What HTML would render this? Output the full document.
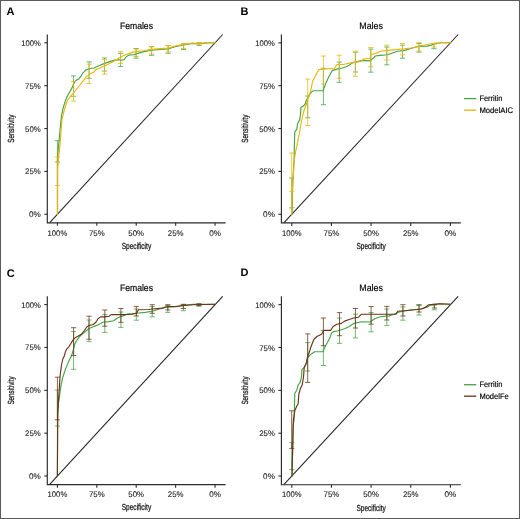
<!DOCTYPE html>
<html><head><meta charset="utf-8"><title>ROC curves</title>
<style>
html,body{margin:0;padding:0;background:#fff;}
body{width:520px;height:519px;overflow:hidden;}
svg{display:block;will-change:transform;}
text{font-family:"Liberation Sans", sans-serif;text-rendering:geometricPrecision;}
.tk{font-size:8.1px;fill:#1a1a1a;stroke:#1a1a1a;stroke-width:0.1px;}
.ti{font-size:9.5px;fill:#000;stroke:#000;stroke-width:0.18px;}
.at{font-size:8.9px;fill:#111;stroke:#111;stroke-width:0.25px;}
.lg{font-size:8px;fill:#000;stroke:#000;stroke-width:0.18px;}
.pl{font-size:11px;font-weight:bold;fill:#000;}
</style></head>
<body>
<svg width="520" height="519" viewBox="0 0 520 519">
<rect x="0.5" y="0.5" width="519" height="518" fill="#fff" stroke="#5a5a5a" stroke-width="1"/>
<text x="6.6" y="14.7" class="pl">A</text>
<text x="240.6" y="14.9" class="pl">B</text>
<text x="6.8" y="276.5" class="pl">C</text>
<text x="240.6" y="276.3" class="pl">D</text>
<line x1="49.49" y1="222.85" x2="222.68" y2="34.5" stroke="#222" stroke-width="1.05"/>
<path d="M47.3 34.5V222.85H225.6" fill="none" stroke="#2b2b2b" stroke-width="1.15"/>
<line x1="44.3" y1="214.25" x2="47.3" y2="214.25" stroke="#2b2b2b" stroke-width="1.1"/>
<text x="40.8" y="217.25" text-anchor="end" class="tk" textLength="11.8" lengthAdjust="spacingAndGlyphs">0%</text>
<line x1="44.3" y1="171.39" x2="47.3" y2="171.39" stroke="#2b2b2b" stroke-width="1.1"/>
<text x="40.8" y="174.39" text-anchor="end" class="tk" textLength="15.7" lengthAdjust="spacingAndGlyphs">25%</text>
<line x1="44.3" y1="128.53" x2="47.3" y2="128.53" stroke="#2b2b2b" stroke-width="1.1"/>
<text x="40.8" y="131.53" text-anchor="end" class="tk" textLength="15.7" lengthAdjust="spacingAndGlyphs">50%</text>
<line x1="44.3" y1="85.66" x2="47.3" y2="85.66" stroke="#2b2b2b" stroke-width="1.1"/>
<text x="40.8" y="88.66" text-anchor="end" class="tk" textLength="15.7" lengthAdjust="spacingAndGlyphs">75%</text>
<line x1="44.3" y1="42.8" x2="47.3" y2="42.8" stroke="#2b2b2b" stroke-width="1.1"/>
<text x="40.8" y="45.8" text-anchor="end" class="tk" textLength="19.6" lengthAdjust="spacingAndGlyphs">100%</text>
<line x1="57.4" y1="222.85" x2="57.4" y2="225.85" stroke="#2b2b2b" stroke-width="1.1"/>
<text x="57.4" y="235.55" text-anchor="middle" class="tk" textLength="19.6" lengthAdjust="spacingAndGlyphs">100%</text>
<line x1="96.81" y1="222.85" x2="96.81" y2="225.85" stroke="#2b2b2b" stroke-width="1.1"/>
<text x="96.81" y="235.55" text-anchor="middle" class="tk" textLength="15.7" lengthAdjust="spacingAndGlyphs">75%</text>
<line x1="136.22" y1="222.85" x2="136.22" y2="225.85" stroke="#2b2b2b" stroke-width="1.1"/>
<text x="136.22" y="235.55" text-anchor="middle" class="tk" textLength="15.7" lengthAdjust="spacingAndGlyphs">50%</text>
<line x1="175.64" y1="222.85" x2="175.64" y2="225.85" stroke="#2b2b2b" stroke-width="1.1"/>
<text x="175.64" y="235.55" text-anchor="middle" class="tk" textLength="15.7" lengthAdjust="spacingAndGlyphs">25%</text>
<line x1="215.05" y1="222.85" x2="215.05" y2="225.85" stroke="#2b2b2b" stroke-width="1.1"/>
<text x="215.05" y="235.55" text-anchor="middle" class="tk" textLength="11.8" lengthAdjust="spacingAndGlyphs">0%</text>
<text x="136.45" y="28.9" text-anchor="middle" class="ti" textLength="33.1" lengthAdjust="spacingAndGlyphs">Females</text>
<text x="136.45" y="248.65" text-anchor="middle" class="at" textLength="29.4" lengthAdjust="spacingAndGlyphs">Specificity</text>
<text transform="translate(14.2 128.68) rotate(-90)" x="0" y="0" text-anchor="middle" class="at" textLength="28.2" lengthAdjust="spacingAndGlyphs">Sensitivity</text>
<line x1="283.8" y1="222.9" x2="458.13" y2="34.5" stroke="#222" stroke-width="1.05"/>
<path d="M281.4 34.5V222.9H460.8" fill="none" stroke="#2b2b2b" stroke-width="1.15"/>
<line x1="278.4" y1="214.25" x2="281.4" y2="214.25" stroke="#2b2b2b" stroke-width="1.1"/>
<text x="274.9" y="217.25" text-anchor="end" class="tk" textLength="11.8" lengthAdjust="spacingAndGlyphs">0%</text>
<line x1="278.4" y1="171.4" x2="281.4" y2="171.4" stroke="#2b2b2b" stroke-width="1.1"/>
<text x="274.9" y="174.4" text-anchor="end" class="tk" textLength="15.7" lengthAdjust="spacingAndGlyphs">25%</text>
<line x1="278.4" y1="128.55" x2="281.4" y2="128.55" stroke="#2b2b2b" stroke-width="1.1"/>
<text x="274.9" y="131.55" text-anchor="end" class="tk" textLength="15.7" lengthAdjust="spacingAndGlyphs">50%</text>
<line x1="278.4" y1="85.7" x2="281.4" y2="85.7" stroke="#2b2b2b" stroke-width="1.1"/>
<text x="274.9" y="88.7" text-anchor="end" class="tk" textLength="15.7" lengthAdjust="spacingAndGlyphs">75%</text>
<line x1="278.4" y1="42.85" x2="281.4" y2="42.85" stroke="#2b2b2b" stroke-width="1.1"/>
<text x="274.9" y="45.85" text-anchor="end" class="tk" textLength="19.6" lengthAdjust="spacingAndGlyphs">100%</text>
<line x1="291.8" y1="222.9" x2="291.8" y2="225.9" stroke="#2b2b2b" stroke-width="1.1"/>
<text x="291.8" y="235.6" text-anchor="middle" class="tk" textLength="19.6" lengthAdjust="spacingAndGlyphs">100%</text>
<line x1="331.45" y1="222.9" x2="331.45" y2="225.9" stroke="#2b2b2b" stroke-width="1.1"/>
<text x="331.45" y="235.6" text-anchor="middle" class="tk" textLength="15.7" lengthAdjust="spacingAndGlyphs">75%</text>
<line x1="371.1" y1="222.9" x2="371.1" y2="225.9" stroke="#2b2b2b" stroke-width="1.1"/>
<text x="371.1" y="235.6" text-anchor="middle" class="tk" textLength="15.7" lengthAdjust="spacingAndGlyphs">50%</text>
<line x1="410.75" y1="222.9" x2="410.75" y2="225.9" stroke="#2b2b2b" stroke-width="1.1"/>
<text x="410.75" y="235.6" text-anchor="middle" class="tk" textLength="15.7" lengthAdjust="spacingAndGlyphs">25%</text>
<line x1="450.4" y1="222.9" x2="450.4" y2="225.9" stroke="#2b2b2b" stroke-width="1.1"/>
<text x="450.4" y="235.6" text-anchor="middle" class="tk" textLength="11.8" lengthAdjust="spacingAndGlyphs">0%</text>
<text x="371.1" y="28.9" text-anchor="middle" class="ti" textLength="23.6" lengthAdjust="spacingAndGlyphs">Males</text>
<text x="371.1" y="248.7" text-anchor="middle" class="at" textLength="29.4" lengthAdjust="spacingAndGlyphs">Specificity</text>
<text transform="translate(248.3 128.7) rotate(-90)" x="0" y="0" text-anchor="middle" class="at" textLength="28.2" lengthAdjust="spacingAndGlyphs">Sensitivity</text>
<line x1="49.49" y1="484.65" x2="222.68" y2="296.3" stroke="#222" stroke-width="1.05"/>
<path d="M47.3 296.3V484.65H225.6" fill="none" stroke="#2b2b2b" stroke-width="1.15"/>
<line x1="44.3" y1="476.05" x2="47.3" y2="476.05" stroke="#2b2b2b" stroke-width="1.1"/>
<text x="40.8" y="479.05" text-anchor="end" class="tk" textLength="11.8" lengthAdjust="spacingAndGlyphs">0%</text>
<line x1="44.3" y1="433.19" x2="47.3" y2="433.19" stroke="#2b2b2b" stroke-width="1.1"/>
<text x="40.8" y="436.19" text-anchor="end" class="tk" textLength="15.7" lengthAdjust="spacingAndGlyphs">25%</text>
<line x1="44.3" y1="390.33" x2="47.3" y2="390.33" stroke="#2b2b2b" stroke-width="1.1"/>
<text x="40.8" y="393.33" text-anchor="end" class="tk" textLength="15.7" lengthAdjust="spacingAndGlyphs">50%</text>
<line x1="44.3" y1="347.46" x2="47.3" y2="347.46" stroke="#2b2b2b" stroke-width="1.1"/>
<text x="40.8" y="350.46" text-anchor="end" class="tk" textLength="15.7" lengthAdjust="spacingAndGlyphs">75%</text>
<line x1="44.3" y1="304.6" x2="47.3" y2="304.6" stroke="#2b2b2b" stroke-width="1.1"/>
<text x="40.8" y="307.6" text-anchor="end" class="tk" textLength="19.6" lengthAdjust="spacingAndGlyphs">100%</text>
<line x1="57.4" y1="484.65" x2="57.4" y2="487.65" stroke="#2b2b2b" stroke-width="1.1"/>
<text x="57.4" y="497.35" text-anchor="middle" class="tk" textLength="19.6" lengthAdjust="spacingAndGlyphs">100%</text>
<line x1="96.81" y1="484.65" x2="96.81" y2="487.65" stroke="#2b2b2b" stroke-width="1.1"/>
<text x="96.81" y="497.35" text-anchor="middle" class="tk" textLength="15.7" lengthAdjust="spacingAndGlyphs">75%</text>
<line x1="136.22" y1="484.65" x2="136.22" y2="487.65" stroke="#2b2b2b" stroke-width="1.1"/>
<text x="136.22" y="497.35" text-anchor="middle" class="tk" textLength="15.7" lengthAdjust="spacingAndGlyphs">50%</text>
<line x1="175.64" y1="484.65" x2="175.64" y2="487.65" stroke="#2b2b2b" stroke-width="1.1"/>
<text x="175.64" y="497.35" text-anchor="middle" class="tk" textLength="15.7" lengthAdjust="spacingAndGlyphs">25%</text>
<line x1="215.05" y1="484.65" x2="215.05" y2="487.65" stroke="#2b2b2b" stroke-width="1.1"/>
<text x="215.05" y="497.35" text-anchor="middle" class="tk" textLength="11.8" lengthAdjust="spacingAndGlyphs">0%</text>
<text x="136.45" y="290.7" text-anchor="middle" class="ti" textLength="33.1" lengthAdjust="spacingAndGlyphs">Females</text>
<text x="136.45" y="510.45" text-anchor="middle" class="at" textLength="29.4" lengthAdjust="spacingAndGlyphs">Specificity</text>
<text transform="translate(14.2 390.48) rotate(-90)" x="0" y="0" text-anchor="middle" class="at" textLength="28.2" lengthAdjust="spacingAndGlyphs">Sensitivity</text>
<line x1="283.8" y1="484.7" x2="458.13" y2="296.3" stroke="#222" stroke-width="1.05"/>
<path d="M281.4 296.3V484.7H460.8" fill="none" stroke="#2b2b2b" stroke-width="1.15"/>
<line x1="278.4" y1="476.05" x2="281.4" y2="476.05" stroke="#2b2b2b" stroke-width="1.1"/>
<text x="274.9" y="479.05" text-anchor="end" class="tk" textLength="11.8" lengthAdjust="spacingAndGlyphs">0%</text>
<line x1="278.4" y1="433.2" x2="281.4" y2="433.2" stroke="#2b2b2b" stroke-width="1.1"/>
<text x="274.9" y="436.2" text-anchor="end" class="tk" textLength="15.7" lengthAdjust="spacingAndGlyphs">25%</text>
<line x1="278.4" y1="390.35" x2="281.4" y2="390.35" stroke="#2b2b2b" stroke-width="1.1"/>
<text x="274.9" y="393.35" text-anchor="end" class="tk" textLength="15.7" lengthAdjust="spacingAndGlyphs">50%</text>
<line x1="278.4" y1="347.5" x2="281.4" y2="347.5" stroke="#2b2b2b" stroke-width="1.1"/>
<text x="274.9" y="350.5" text-anchor="end" class="tk" textLength="15.7" lengthAdjust="spacingAndGlyphs">75%</text>
<line x1="278.4" y1="304.65" x2="281.4" y2="304.65" stroke="#2b2b2b" stroke-width="1.1"/>
<text x="274.9" y="307.65" text-anchor="end" class="tk" textLength="19.6" lengthAdjust="spacingAndGlyphs">100%</text>
<line x1="291.8" y1="484.7" x2="291.8" y2="487.7" stroke="#2b2b2b" stroke-width="1.1"/>
<text x="291.8" y="497.4" text-anchor="middle" class="tk" textLength="19.6" lengthAdjust="spacingAndGlyphs">100%</text>
<line x1="331.45" y1="484.7" x2="331.45" y2="487.7" stroke="#2b2b2b" stroke-width="1.1"/>
<text x="331.45" y="497.4" text-anchor="middle" class="tk" textLength="15.7" lengthAdjust="spacingAndGlyphs">75%</text>
<line x1="371.1" y1="484.7" x2="371.1" y2="487.7" stroke="#2b2b2b" stroke-width="1.1"/>
<text x="371.1" y="497.4" text-anchor="middle" class="tk" textLength="15.7" lengthAdjust="spacingAndGlyphs">50%</text>
<line x1="410.75" y1="484.7" x2="410.75" y2="487.7" stroke="#2b2b2b" stroke-width="1.1"/>
<text x="410.75" y="497.4" text-anchor="middle" class="tk" textLength="15.7" lengthAdjust="spacingAndGlyphs">25%</text>
<line x1="450.4" y1="484.7" x2="450.4" y2="487.7" stroke="#2b2b2b" stroke-width="1.1"/>
<text x="450.4" y="497.4" text-anchor="middle" class="tk" textLength="11.8" lengthAdjust="spacingAndGlyphs">0%</text>
<text x="371.1" y="290.7" text-anchor="middle" class="ti" textLength="23.6" lengthAdjust="spacingAndGlyphs">Males</text>
<text x="371.1" y="510.5" text-anchor="middle" class="at" textLength="29.4" lengthAdjust="spacingAndGlyphs">Specificity</text>
<text transform="translate(248.3 390.5) rotate(-90)" x="0" y="0" text-anchor="middle" class="at" textLength="28.2" lengthAdjust="spacingAndGlyphs">Sensitivity</text>
<path d="M57.4 140.7V162M54.8 140.7H60M54.8 162H60" fill="none" stroke="#45a545" stroke-width="0.9" stroke-opacity="0.85"/>
<path d="M73.5 75.9V96.3M70.9 75.9H76.1M70.9 96.3H76.1" fill="none" stroke="#45a545" stroke-width="0.9" stroke-opacity="0.85"/>
<path d="M89.1 61.9V78.4M86.5 61.9H91.7M86.5 78.4H91.7" fill="none" stroke="#45a545" stroke-width="0.9" stroke-opacity="0.85"/>
<path d="M104.5 58V71.1M101.9 58H107.1M101.9 71.1H107.1" fill="none" stroke="#45a545" stroke-width="0.9" stroke-opacity="0.85"/>
<path d="M120.6 53.4V66.5M118 53.4H123.2M118 66.5H123.2" fill="none" stroke="#45a545" stroke-width="0.9" stroke-opacity="0.85"/>
<path d="M136.1 48.5V58.1M133.5 48.5H138.7M133.5 58.1H138.7" fill="none" stroke="#45a545" stroke-width="0.9" stroke-opacity="0.85"/>
<path d="M151.6 46.7V55.4M149 46.7H154.2M149 55.4H154.2" fill="none" stroke="#45a545" stroke-width="0.9" stroke-opacity="0.85"/>
<path d="M168.1 45.5V53.3M165.5 45.5H170.7M165.5 53.3H170.7" fill="none" stroke="#45a545" stroke-width="0.9" stroke-opacity="0.85"/>
<path d="M183.6 43.8V49.5M181 43.8H186.2M181 49.5H186.2" fill="none" stroke="#45a545" stroke-width="0.9" stroke-opacity="0.85"/>
<path d="M199.2 42.9V45.5M196.6 42.9H201.8M196.6 45.5H201.8" fill="none" stroke="#45a545" stroke-width="0.9" stroke-opacity="0.85"/>
<path d="M57.4 214.3 L57.4 160 L57.7 156.6 L58.2 148.9 L59.2 139.3 L60.1 129.6 L60.8 122 L61.6 115.2 L63.4 107.1 L65.5 100.4 L67.5 95.7 L69.5 92.3 L71.5 88.9 L73.5 84.2 L75.6 80.8 L78.9 78.8 L81 76.1 L83 72.8 L85.7 70.1 L89 68.7 L94 68 L98.7 65.7 L104.8 63.4 L111 61.1 L117.2 59.6 L121.8 60.3 L124.1 59.6 L126.4 56.5 L129.5 55 L134 54.6 L143.8 51.6 L151.6 50.2 L160.3 49.4 L168.1 48.9 L175 46.8 L183.6 45 L192.3 43.5 L199.2 43.8 L207.9 42.9 L215 42.8" fill="none" stroke="#45a545" stroke-width="1.15" stroke-linejoin="round" stroke-linecap="round"/>
<path d="M57.4 157V185.5M54.8 157H60M54.8 185.5H60" fill="none" stroke="#ebb50a" stroke-width="0.9" stroke-opacity="0.85"/>
<path d="M73.5 81.5V101.1M70.9 81.5H76.1M70.9 101.1H76.1" fill="none" stroke="#ebb50a" stroke-width="0.9" stroke-opacity="0.85"/>
<path d="M89.1 64.2V83.5M86.5 64.2H91.7M86.5 83.5H91.7" fill="none" stroke="#ebb50a" stroke-width="0.9" stroke-opacity="0.85"/>
<path d="M104.5 59.6V74.2M101.9 59.6H107.1M101.9 74.2H107.1" fill="none" stroke="#ebb50a" stroke-width="0.9" stroke-opacity="0.85"/>
<path d="M120.6 51.6V63.4M118 51.6H123.2M118 63.4H123.2" fill="none" stroke="#ebb50a" stroke-width="0.9" stroke-opacity="0.85"/>
<path d="M136.1 49V56.5M133.5 49H138.7M133.5 56.5H138.7" fill="none" stroke="#ebb50a" stroke-width="0.9" stroke-opacity="0.85"/>
<path d="M151.6 46.7V54M149 46.7H154.2M149 54H154.2" fill="none" stroke="#ebb50a" stroke-width="0.9" stroke-opacity="0.85"/>
<path d="M168.1 45.5V52M165.5 45.5H170.7M165.5 52H170.7" fill="none" stroke="#ebb50a" stroke-width="0.9" stroke-opacity="0.85"/>
<path d="M183.6 43.8V48.5M181 43.8H186.2M181 48.5H186.2" fill="none" stroke="#ebb50a" stroke-width="0.9" stroke-opacity="0.85"/>
<path d="M199.2 42.9V45M196.6 42.9H201.8M196.6 45H201.8" fill="none" stroke="#ebb50a" stroke-width="0.9" stroke-opacity="0.85"/>
<path d="M57.6 214.3 L57.7 168.2 L58.7 156.6 L60.1 144.1 L61.1 129.6 L62 120 L63.4 113.5 L65.5 105.8 L67.5 100.5 L70.2 96.6 L72.9 93.6 L76.2 89.5 L79.6 85.5 L83 80.8 L86.3 76.9 L89.7 74.1 L94 72.1 L95.6 69.6 L100.2 68 L104.8 65.7 L109.5 63.4 L115.6 60.3 L120.3 57.3 L124.9 55 L129.5 53.4 L134 51.9 L143.8 50.8 L151.6 49.4 L160.3 48.6 L168.1 48.1 L175 46 L183.6 44.4 L192.3 43.1 L199.2 43.3 L207.9 42.8 L215 42.6" fill="none" stroke="#ebb50a" stroke-width="1.15" stroke-linejoin="round" stroke-linecap="round"/>
<path d="M291.7 178V207.8M289.1 178H294.3M289.1 207.8H294.3" fill="none" stroke="#45a545" stroke-width="0.9" stroke-opacity="0.85"/>
<path d="M307.7 96V117.8M305.1 96H310.3M305.1 117.8H310.3" fill="none" stroke="#45a545" stroke-width="0.9" stroke-opacity="0.85"/>
<path d="M323.4 68.3V104.7M320.8 68.3H326M320.8 104.7H326" fill="none" stroke="#45a545" stroke-width="0.9" stroke-opacity="0.85"/>
<path d="M339.2 62V82.3M336.6 62H341.8M336.6 82.3H341.8" fill="none" stroke="#45a545" stroke-width="0.9" stroke-opacity="0.85"/>
<path d="M355.4 52.2V72M352.8 52.2H358M352.8 72H358" fill="none" stroke="#45a545" stroke-width="0.9" stroke-opacity="0.85"/>
<path d="M370.8 49.1V72.2M368.2 49.1H373.4M368.2 72.2H373.4" fill="none" stroke="#45a545" stroke-width="0.9" stroke-opacity="0.85"/>
<path d="M386.8 47V64.8M384.2 47H389.4M384.2 64.8H389.4" fill="none" stroke="#45a545" stroke-width="0.9" stroke-opacity="0.85"/>
<path d="M402.5 45.2V58.2M399.9 45.2H405.1M399.9 58.2H405.1" fill="none" stroke="#45a545" stroke-width="0.9" stroke-opacity="0.85"/>
<path d="M419 43.5V52.2M416.4 43.5H421.6M416.4 52.2H421.6" fill="none" stroke="#45a545" stroke-width="0.9" stroke-opacity="0.85"/>
<path d="M434 44V48.7M431.4 44H436.6M431.4 48.7H436.6" fill="none" stroke="#45a545" stroke-width="0.9" stroke-opacity="0.85"/>
<path d="M292 214.3 L292.2 207.3 L292.8 183 L293.7 165.3 L294.1 160 L294.4 144 L294.8 131.8 L296.8 129.1 L297.5 123.7 L299.5 120.4 L300.6 113.6 L300.8 107.5 L302.9 106.2 L304.9 104.8 L306.2 100.8 L307.6 98.1 L308.9 95.4 L311 92.7 L313 90.8 L323.1 90.6 L326.2 82.2 L329.2 76 L332.3 70.6 L336.9 69.1 L341.5 68.3 L346.2 66.8 L349.2 65.2 L352.3 62.9 L361.5 60.6 L370 60.6 L373.1 58.3 L375.4 56 L380.4 55.4 L387.3 54.8 L392.5 53 L397.7 51.3 L404.6 50.4 L413.3 47.8 L418.4 46.5 L427.1 46.1 L431.4 45.2 L434 43.5 L442.7 42.7 L450.4 42.8" fill="none" stroke="#45a545" stroke-width="1.15" stroke-linejoin="round" stroke-linecap="round"/>
<path d="M291.7 153V191.3M289.1 153H294.3M289.1 191.3H294.3" fill="none" stroke="#ebb50a" stroke-width="0.9" stroke-opacity="0.85"/>
<path d="M307.7 79.1V125.5M305.1 79.1H310.3M305.1 125.5H310.3" fill="none" stroke="#ebb50a" stroke-width="0.9" stroke-opacity="0.85"/>
<path d="M323.4 56V83.9M320.8 56H326M320.8 83.9H326" fill="none" stroke="#ebb50a" stroke-width="0.9" stroke-opacity="0.85"/>
<path d="M339.2 55.2V78.3M336.6 55.2H341.8M336.6 78.3H341.8" fill="none" stroke="#ebb50a" stroke-width="0.9" stroke-opacity="0.85"/>
<path d="M355.4 51.1V76.3M352.8 51.1H358M352.8 76.3H358" fill="none" stroke="#ebb50a" stroke-width="0.9" stroke-opacity="0.85"/>
<path d="M370.8 47.5V66.8M368.2 47.5H373.4M368.2 66.8H373.4" fill="none" stroke="#ebb50a" stroke-width="0.9" stroke-opacity="0.85"/>
<path d="M386.8 45.2V60M384.2 45.2H389.4M384.2 60H389.4" fill="none" stroke="#ebb50a" stroke-width="0.9" stroke-opacity="0.85"/>
<path d="M402.5 43.5V54.8M399.9 43.5H405.1M399.9 54.8H405.1" fill="none" stroke="#ebb50a" stroke-width="0.9" stroke-opacity="0.85"/>
<path d="M419 42.7V51M416.4 42.7H421.6M416.4 51H421.6" fill="none" stroke="#ebb50a" stroke-width="0.9" stroke-opacity="0.85"/>
<path d="M434 43.5V47M431.4 43.5H436.6M431.4 47H436.6" fill="none" stroke="#ebb50a" stroke-width="0.9" stroke-opacity="0.85"/>
<path d="M291.7 214.3 L292.2 191.9 L293.3 176.4 L294.3 160 L295.6 152 L297.2 144 L298.8 136 L300.2 129 L301.3 122 L302.6 116 L303.9 111 L306.1 105 L307.6 100 L309.4 95 L310.9 90 L312.6 81 L315.4 76 L318.5 69.8 L323.1 69.1 L334.6 68.3 L336.9 64.5 L343.1 64.5 L350.8 62.9 L355.4 62.2 L361.5 61.4 L363.1 59.1 L370 58.3 L371.5 54.5 L376.9 52.9 L380.4 51.3 L387.3 50.4 L396 49.6 L404.6 48.7 L413.3 47.8 L418.4 46.1 L423.6 45.2 L432.3 43.5 L439.2 42.7 L450.4 42.6" fill="none" stroke="#ebb50a" stroke-width="1.15" stroke-linejoin="round" stroke-linecap="round"/>
<path d="M57.4 390.1V426.1M54.8 390.1H60M54.8 426.1H60" fill="none" stroke="#45a545" stroke-width="0.9" stroke-opacity="0.85"/>
<path d="M73.6 331.6V369.3M71 331.6H76.2M71 369.3H76.2" fill="none" stroke="#45a545" stroke-width="0.9" stroke-opacity="0.85"/>
<path d="M89 320V341.6M86.4 320H91.6M86.4 341.6H91.6" fill="none" stroke="#45a545" stroke-width="0.9" stroke-opacity="0.85"/>
<path d="M104.8 314.6V332.4M102.2 314.6H107.4M102.2 332.4H107.4" fill="none" stroke="#45a545" stroke-width="0.9" stroke-opacity="0.85"/>
<path d="M120.9 312V327.4M118.3 312H123.5M118.3 327.4H123.5" fill="none" stroke="#45a545" stroke-width="0.9" stroke-opacity="0.85"/>
<path d="M136.3 309V320.2M133.7 309H138.9M133.7 320.2H138.9" fill="none" stroke="#45a545" stroke-width="0.9" stroke-opacity="0.85"/>
<path d="M152.2 306.5V316.8M149.6 306.5H154.8M149.6 316.8H154.8" fill="none" stroke="#45a545" stroke-width="0.9" stroke-opacity="0.85"/>
<path d="M167.8 305.5V312.4M165.2 305.5H170.4M165.2 312.4H170.4" fill="none" stroke="#45a545" stroke-width="0.9" stroke-opacity="0.85"/>
<path d="M183.4 304.5V310.7M180.8 304.5H186M180.8 310.7H186" fill="none" stroke="#45a545" stroke-width="0.9" stroke-opacity="0.85"/>
<path d="M198.9 304V306.3M196.3 304H201.5M196.3 306.3H201.5" fill="none" stroke="#45a545" stroke-width="0.9" stroke-opacity="0.85"/>
<path d="M57.4 476.1 L57.5 420 L58.3 405 L59.4 397 L60.8 386.6 L62.8 377.2 L65.5 369.1 L68.9 361 L71.6 355.6 L73.6 348.9 L74.9 343.5 L77 340.1 L79.6 336.7 L82.3 334 L85.7 331.3 L89 328.5 L92.8 327 L96.7 325.4 L99.8 323.9 L102.8 322.3 L109 321.6 L113.6 320.8 L116.7 318.5 L119.8 316.9 L124.4 315.4 L127.5 313.9 L132 313.9 L136.7 313.3 L145.3 312.4 L152.2 311.2 L159.1 309 L166.1 307.2 L176.4 306.7 L183.4 305 L193.7 304.3 L215 304.3" fill="none" stroke="#45a545" stroke-width="1.15" stroke-linejoin="round" stroke-linecap="round"/>
<path d="M57.4 377.2V419.8M54.8 377.2H60M54.8 419.8H60" fill="none" stroke="#6b3318" stroke-width="0.9" stroke-opacity="0.85"/>
<path d="M73.6 327.7V355.5M71 327.7H76.2M71 355.5H76.2" fill="none" stroke="#6b3318" stroke-width="0.9" stroke-opacity="0.85"/>
<path d="M89 316.2V339.3M86.4 316.2H91.6M86.4 339.3H91.6" fill="none" stroke="#6b3318" stroke-width="0.9" stroke-opacity="0.85"/>
<path d="M104.8 310V326.2M102.2 310H107.4M102.2 326.2H107.4" fill="none" stroke="#6b3318" stroke-width="0.9" stroke-opacity="0.85"/>
<path d="M120.9 308.5V322.3M118.3 308.5H123.5M118.3 322.3H123.5" fill="none" stroke="#6b3318" stroke-width="0.9" stroke-opacity="0.85"/>
<path d="M136.3 306.4V316M133.7 306.4H138.9M133.7 316H138.9" fill="none" stroke="#6b3318" stroke-width="0.9" stroke-opacity="0.85"/>
<path d="M152.2 304.7V313.3M149.6 304.7H154.8M149.6 313.3H154.8" fill="none" stroke="#6b3318" stroke-width="0.9" stroke-opacity="0.85"/>
<path d="M167.8 304.7V310M165.2 304.7H170.4M165.2 310H170.4" fill="none" stroke="#6b3318" stroke-width="0.9" stroke-opacity="0.85"/>
<path d="M183.4 304.3V308.5M180.8 304.3H186M180.8 308.5H186" fill="none" stroke="#6b3318" stroke-width="0.9" stroke-opacity="0.85"/>
<path d="M198.9 303.8V305.5M196.3 303.8H201.5M196.3 305.5H201.5" fill="none" stroke="#6b3318" stroke-width="0.9" stroke-opacity="0.85"/>
<path d="M57.4 476.1 L57.4 473.8 L57.8 412.4 L58.5 400 L59.4 386.6 L60.1 375.8 L61.5 365 L62.8 359 L64.2 356.3 L65.5 351.6 L66.8 348.9 L68.9 346.8 L70.9 343.5 L72.9 340.1 L75.6 337.4 L78.3 336.1 L81.7 334 L84.4 330.5 L86.7 327 L89 325.4 L92.8 324.7 L95.9 322.3 L98.2 318.5 L100.5 316.9 L105.2 316.9 L109 316.2 L111.3 314.6 L121.3 314.6 L132 314.2 L136.7 313 L138.4 309.8 L148.8 309.5 L152.2 309 L162.6 308.1 L166.1 306.7 L176.4 306.4 L185.1 305.5 L193.7 304.7 L215 304.3" fill="none" stroke="#6b3318" stroke-width="1.15" stroke-linejoin="round" stroke-linecap="round"/>
<path d="M291.7 442.6V469.6M289.1 442.6H294.3M289.1 469.6H294.3" fill="none" stroke="#45a545" stroke-width="0.9" stroke-opacity="0.85"/>
<path d="M307.7 342.6V371M305.1 342.6H310.3M305.1 371H310.3" fill="none" stroke="#45a545" stroke-width="0.9" stroke-opacity="0.85"/>
<path d="M323.4 330.5V365.5M320.8 330.5H326M320.8 365.5H326" fill="none" stroke="#45a545" stroke-width="0.9" stroke-opacity="0.85"/>
<path d="M339.5 318V343.4M336.9 318H342.1M336.9 343.4H342.1" fill="none" stroke="#45a545" stroke-width="0.9" stroke-opacity="0.85"/>
<path d="M355.4 314.2V338M352.8 314.2H358M352.8 338H358" fill="none" stroke="#45a545" stroke-width="0.9" stroke-opacity="0.85"/>
<path d="M371.1 312.6V331.8M368.5 312.6H373.7M368.5 331.8H373.7" fill="none" stroke="#45a545" stroke-width="0.9" stroke-opacity="0.85"/>
<path d="M386.8 309V325.4M384.2 309H389.4M384.2 325.4H389.4" fill="none" stroke="#45a545" stroke-width="0.9" stroke-opacity="0.85"/>
<path d="M402.9 307V320.2M400.3 307H405.5M400.3 320.2H405.5" fill="none" stroke="#45a545" stroke-width="0.9" stroke-opacity="0.85"/>
<path d="M419 305.5V315M416.4 305.5H421.6M416.4 315H421.6" fill="none" stroke="#45a545" stroke-width="0.9" stroke-opacity="0.85"/>
<path d="M434.4 305V309.8M431.8 305H437M431.8 309.8H437" fill="none" stroke="#45a545" stroke-width="0.9" stroke-opacity="0.85"/>
<path d="M292 476.1 L292.7 447.4 L293.2 425 L294.1 420 L294.8 393.2 L296.8 390.5 L298.1 385.1 L300.2 382.4 L301.5 377 L301.9 369.6 L304.2 367.5 L306.2 363.5 L307.6 358.1 L309.6 355.4 L313 352.7 L314.6 351.8 L323 351.6 L325.3 346.2 L327.6 342.3 L329.9 337.7 L331.5 333.1 L333.8 331.6 L338.4 330.8 L344.6 328.8 L349.2 326.5 L353.8 323.4 L361.5 321.8 L370 322 L375.2 318.5 L380.4 316.8 L389 315.9 L394.2 314.2 L397.7 312.4 L402.9 311.2 L411.5 309.8 L420.2 309 L427.1 307.2 L429.7 305.5 L435.7 304.7 L439.2 303.8 L450.4 304.3" fill="none" stroke="#45a545" stroke-width="1.15" stroke-linejoin="round" stroke-linecap="round"/>
<path d="M291.7 410.8V448.4M289.1 410.8H294.3M289.1 448.4H294.3" fill="none" stroke="#6b3318" stroke-width="0.9" stroke-opacity="0.85"/>
<path d="M307.7 333.9V382.4M305.1 333.9H310.3M305.1 382.4H310.3" fill="none" stroke="#6b3318" stroke-width="0.9" stroke-opacity="0.85"/>
<path d="M323.4 318V345.7M320.8 318H326M320.8 345.7H326" fill="none" stroke="#6b3318" stroke-width="0.9" stroke-opacity="0.85"/>
<path d="M339.5 312.6V335.7M336.9 312.6H342.1M336.9 335.7H342.1" fill="none" stroke="#6b3318" stroke-width="0.9" stroke-opacity="0.85"/>
<path d="M355.4 308.5V328M352.8 308.5H358M352.8 328H358" fill="none" stroke="#6b3318" stroke-width="0.9" stroke-opacity="0.85"/>
<path d="M371.1 306.5V324.2M368.5 306.5H373.7M368.5 324.2H373.7" fill="none" stroke="#6b3318" stroke-width="0.9" stroke-opacity="0.85"/>
<path d="M386.8 306.4V320M384.2 306.4H389.4M384.2 320H389.4" fill="none" stroke="#6b3318" stroke-width="0.9" stroke-opacity="0.85"/>
<path d="M402.9 304.7V316M400.3 304.7H405.5M400.3 316H405.5" fill="none" stroke="#6b3318" stroke-width="0.9" stroke-opacity="0.85"/>
<path d="M419 304.7V312M416.4 304.7H421.6M416.4 312H421.6" fill="none" stroke="#6b3318" stroke-width="0.9" stroke-opacity="0.85"/>
<path d="M434.4 304.3V308M431.8 304.3H437M431.8 308H437" fill="none" stroke="#6b3318" stroke-width="0.9" stroke-opacity="0.85"/>
<path d="M292 476.1 L292.1 470.6 L292.7 447.4 L293.2 424.3 L293.4 420 L294.8 410.7 L296.8 406 L298.1 404 L298.8 394.5 L300.2 389.1 L302.2 385.1 L303.5 377 L304.2 367.5 L306.2 363.5 L307.6 356.7 L309.6 351.3 L310.8 347.2 L313.8 339.5 L316.9 336.5 L321.5 334.2 L323.8 330.3 L330.8 330.3 L333.1 326.5 L336.9 324.2 L341.5 323.4 L344.6 321.1 L349.2 319.5 L353.8 318 L358.5 317.2 L361.5 314.2 L396 314.2 L397.7 311.2 L404.6 310.7 L415 309.8 L421.9 309 L425.4 307.2 L428.8 304.7 L439.2 303.8 L450.4 304.3" fill="none" stroke="#6b3318" stroke-width="1.15" stroke-linejoin="round" stroke-linecap="round"/>
<line x1="464" y1="98.6" x2="476.3" y2="98.6" stroke="#45a545" stroke-width="1.3"/>
<text x="479.4" y="101.1" class="lg" textLength="22.9" lengthAdjust="spacingAndGlyphs">Ferritin</text>
<line x1="464" y1="110.2" x2="476.3" y2="110.2" stroke="#ebb50a" stroke-width="1.3"/>
<text x="479.4" y="112.7" class="lg" textLength="33.7" lengthAdjust="spacingAndGlyphs">ModelAIC</text>
<line x1="464" y1="384.7" x2="476.3" y2="384.7" stroke="#45a545" stroke-width="1.3"/>
<text x="479.4" y="387.2" class="lg" textLength="22.9" lengthAdjust="spacingAndGlyphs">Ferritin</text>
<line x1="464" y1="396.2" x2="476.3" y2="396.2" stroke="#6b3318" stroke-width="1.3"/>
<text x="479.4" y="398.7" class="lg" textLength="29.3" lengthAdjust="spacingAndGlyphs">ModelFe</text>
</svg>
</body></html>
